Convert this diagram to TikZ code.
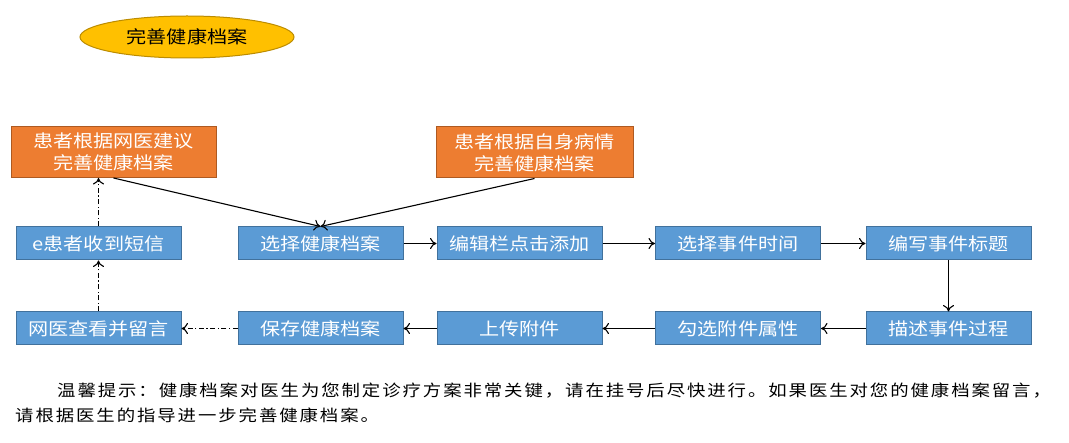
\documentclass[tikz,border=0pt]{standalone}
\usepackage{fontspec}
\newfontfamily\cjk[FakeStretch=1.15]{Noto Sans CJK SC}
\newfontfamily\tipfont[FakeStretch=1.15,LetterSpace=12]{Noto Sans CJK SC}
\usetikzlibrary{shapes.geometric,arrows.meta}
\definecolor{bluefill}{HTML}{5B9BD5}
\definecolor{blueline}{HTML}{41719C}
\definecolor{orangefill}{HTML}{ED7D31}
\definecolor{orangeline}{HTML}{AE5A21}
\definecolor{goldfill}{HTML}{FFC000}
\definecolor{goldline}{HTML}{BC8C00}
\begin{document}
\begin{tikzpicture}[x=1pt,y=-1pt,
  boxfont/.style={font=\cjk\fontsize{17.5}{22}\selectfont},
  bluebox/.style={draw=blueline, fill=bluefill, line width=1pt, minimum width=165pt, minimum height=33pt, inner sep=0pt, text=white, boxfont},
  orangebox/.style={draw=orangeline, fill=orangefill, line width=1pt, minimum height=51pt, inner sep=0pt, text=white, align=center, boxfont},
  titleoval/.style={ellipse, draw=goldline, fill=goldfill, line width=1pt, minimum width=214pt, minimum height=42pt, inner sep=0pt, text=black, boxfont},
  tiptext/.style={anchor=west, inner sep=0pt, text=black, font=\tipfont\fontsize{16}{20}\selectfont},
  flow/.style={draw=black, line width=1.1pt, -{To[length=6.5pt,width=11pt]}},
  ddflow/.style={flow, dash pattern=on 5pt off 2.5pt on 1.2pt off 2.5pt}]
\useasboundingbox (0,0) rectangle (1069,443);
\fill[white] (0,0) rectangle (1069,443);

\node[titleoval] (title) at (187,37) {完善健康档案};

\node[orangebox, minimum width=205pt] (o1) at (113.5,152) {患者根据网医建议\\完善健康档案};
\node[orangebox, minimum width=197pt] (o2) at (534.5,152.5) {患者根据自身病情\\完善健康档案};

\node[bluebox] (b1) at (98.5,243.5) {e患者收到短信};
\node[bluebox] (b2) at (320.5,243.5) {选择健康档案};
\node[bluebox] (b3) at (519.5,243.5) {编辑栏点击添加};
\node[bluebox] (b4) at (738,243.5) {选择事件时间};
\node[bluebox] (b5) at (948.5,243.5) {编写事件标题};

\node[bluebox] (c1) at (98.5,328.5) {网医查看并留言};
\node[bluebox] (c2) at (320.5,328.5) {保存健康档案};
\node[bluebox] (c3) at (519.5,328.5) {上传附件};
\node[bluebox] (c4) at (738,328.5) {勾选附件属性};
\node[bluebox] (c5) at (948.5,328.5) {描述事件过程};

\draw[flow] (o1.south) -- (b2.north);
\draw[flow] (o2.south) -- (b2.north);
\draw[flow] (b2.east) -- (b3.west);
\draw[flow] (b3.east) -- (b4.west);
\draw[flow] (b4.east) -- (b5.west);
\draw[flow] (b5.south) -- (c5.north);
\draw[flow] (c5.west) -- (c4.east);
\draw[flow] (c4.west) -- (c3.east);
\draw[flow] (c3.west) -- (c2.east);
\draw[ddflow] (c2.west) -- (c1.east);
\draw[ddflow] (c1.north) -- (b1.south);
\draw[ddflow] (b1.north) -- (b1.north |- o1.south);

\node[tiptext] (tip1) at (57,391) {温馨提示：健康档案对医生为您制定诊疗方案非常关键，请在挂号后尽快进行。如果医生对您的健康档案留言，};
\node[tiptext] (tip2) at (15,415) {请根据医生的指导进一步完善健康档案。};
\end{tikzpicture}
\end{document}
